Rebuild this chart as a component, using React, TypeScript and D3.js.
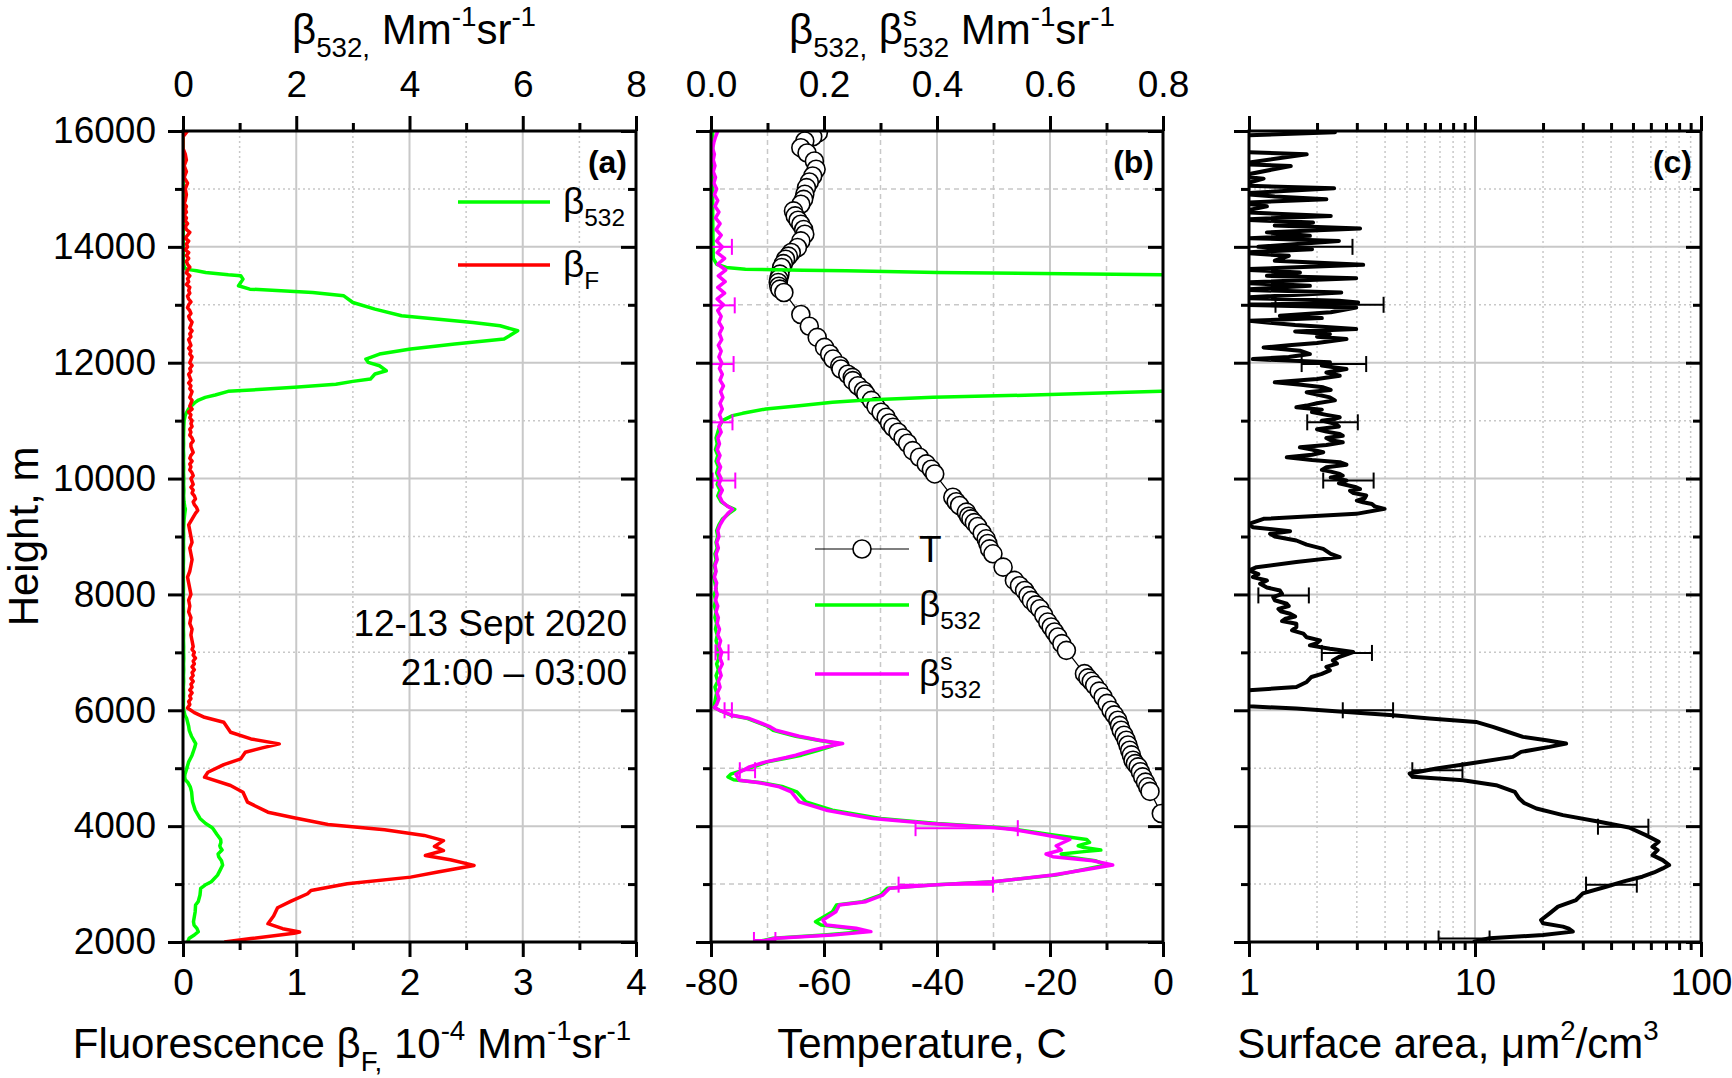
import { useRef, useEffect } from 'react';
import * as d3 from 'd3';

const W = 1732;
const H = 1078;
const TOP = 131;
const BOTTOM = 942;
const PANEL_A: [number, number] = [183, 636];
const PANEL_B: [number, number] = [711, 1163];
const PANEL_C: [number, number] = [1249, 1701];
const FONT = 'Arial, "Liberation Sans", Helvetica, sans-serif';
const GRID = '#c8c8c8';

// [height m, value]
const beta532: [number, number][] = [
  [2000, 0.08], [2064, 0.11], [2121, 0.2], [2179, 0.27], [2236, 0.245], [2293, 0.195], [2350, 0.185],
  [2380, 0.19], [2523, 0.215], [2638, 0.222], [2696, 0.268], [2811, 0.3], [2926, 0.312], [2983, 0.39],
  [3041, 0.5], [3155, 0.61], [3250, 0.66], [3328, 0.7], [3403, 0.68], [3472, 0.63], [3518, 0.62],
  [3560, 0.66], [3587, 0.69], [3630, 0.66], [3661, 0.65], [3720, 0.67], [3770, 0.665], [3857, 0.6],
  [3943, 0.54], [3977, 0.51], [4046, 0.4], [4133, 0.3], [4276, 0.215], [4420, 0.168], [4592, 0.152],
  [4679, 0.128], [4748, 0.09], [4800, 0.04], [4850, 0.03], [4897, 0.035], [5023, 0.075], [5110, 0.1],
  [5184, 0.14], [5225, 0.16], [5311, 0.19], [5368, 0.21], [5426, 0.225], [5483, 0.19], [5552, 0.15],
  [5655, 0.11], [5724, 0.1], [5857, 0.065], [5914, 0.035], [6000, 0.015], [6046, 0.006],
  [6100, 0.006], [6200, 0.008], [6300, 0.01], [6400, 0.007], [6500, 0.012], [6600, 0.009], [6700, 0.013],
  [6800, 0.01], [6900, 0.014], [7000, 0.011], [7100, 0.012], [7200, 0.009], [7300, 0.011], [7400, 0.008],
  [7500, 0.01], [7600, 0.007], [7700, 0.009], [7800, 0.006], [7900, 0.008], [8000, 0.006], [8100, 0.009],
  [8200, 0.007], [8300, 0.005], [8400, 0.008], [8500, 0.006], [8600, 0.009], [8700, 0.007], [8800, 0.011],
  [8900, 0.009], [9000, 0.012], [9100, 0.01], [9200, 0.014], [9300, 0.02], [9400, 0.032], [9470, 0.042],
  [9520, 0.03], [9600, 0.018], [9700, 0.012], [9800, 0.016], [9900, 0.011], [10000, 0.014], [10100, 0.01],
  [10200, 0.013], [10300, 0.009], [10400, 0.012], [10500, 0.008], [10600, 0.011], [10700, 0.009],
  [10800, 0.012], [10900, 0.015], [11000, 0.02], [11086, 0.038], [11126, 0.056], [11201, 0.097],
  [11259, 0.156], [11316, 0.215], [11356, 0.275], [11402, 0.393], [11443, 0.57], [11506, 0.797],
  [11540, 1.4], [11575, 1.97], [11630, 2.7], [11678, 3.0], [11718, 3.31], [11805, 3.39], [11862, 3.59],
  [11948, 3.47], [12006, 3.27], [12063, 3.23], [12150, 3.47], [12236, 4.02], [12322, 4.8], [12408, 5.67],
  [12552, 5.91], [12638, 5.6], [12695, 5.12], [12810, 3.86], [12925, 3.39], [13040, 3.0], [13155, 2.84],
  [13213, 2.29], [13270, 1.18], [13328, 0.98], [13443, 1.06], [13500, 1.02], [13517, 0.8], [13558, 0.4],
  [13586, 0.24], [13598, 0.163], [13615, 0.061], [13644, 0.027], [13700, 0.01], [13800, 0.004],
  [14500, 0.003], [16000, 0.003],
];

const betaF: [number, number][] = [
  [2000, 0.365], [2060, 0.6], [2150, 0.98], [2172, 1.03], [2230, 0.88], [2316, 0.75], [2450, 0.8],
  [2592, 0.835], [2700, 0.95], [2833, 1.1], [2890, 1.13], [3006, 1.45], [3120, 2.01], [3207, 2.25],
  [3322, 2.57], [3420, 2.36], [3494, 2.14], [3580, 2.3], [3650, 2.22], [3750, 2.3], [3840, 2.13],
  [3937, 1.78], [4029, 1.28], [4144, 0.98], [4241, 0.75], [4414, 0.57], [4586, 0.53], [4701, 0.42],
  [4845, 0.19], [4931, 0.22], [5063, 0.36], [5161, 0.51], [5276, 0.55], [5351, 0.7], [5420, 0.85],
  [5506, 0.6], [5621, 0.42], [5793, 0.36], [5879, 0.19], [5960, 0.1], [6040, 0.04],
  [6100, 0.06], [6150, 0.05], [6200, 0.07], [6250, 0.06], [6300, 0.08], [6350, 0.06], [6400, 0.08],
  [6450, 0.07], [6500, 0.09], [6550, 0.07], [6600, 0.09], [6650, 0.08], [6700, 0.1], [6750, 0.08],
  [6800, 0.1], [6850, 0.09], [6900, 0.11], [6950, 0.09], [7000, 0.1], [7050, 0.08], [7100, 0.09],
  [7200, 0.08], [7300, 0.07], [7400, 0.08], [7500, 0.06], [7600, 0.07], [7700, 0.05], [7800, 0.06],
  [7900, 0.05], [8000, 0.07], [8100, 0.06], [8200, 0.05], [8300, 0.04], [8400, 0.06], [8500, 0.07],
  [8600, 0.08], [8700, 0.07], [8800, 0.06], [8900, 0.08], [9000, 0.07], [9100, 0.06], [9200, 0.05],
  [9300, 0.08], [9400, 0.11], [9450, 0.13], [9500, 0.12], [9550, 0.1], [9600, 0.09], [9650, 0.11],
  [9700, 0.1], [9750, 0.08], [9800, 0.09], [9850, 0.07], [9900, 0.09], [9950, 0.08], [10000, 0.07],
  [10050, 0.09], [10100, 0.08], [10150, 0.06], [10200, 0.07], [10250, 0.06], [10300, 0.08], [10350, 0.06],
  [10400, 0.07], [10450, 0.09], [10500, 0.08], [10550, 0.07], [10600, 0.07], [10650, 0.09], [10700, 0.08],
  [10750, 0.06], [10800, 0.07], [10850, 0.06], [10900, 0.08], [10950, 0.07], [11000, 0.08], [11050, 0.06],
  [11100, 0.07], [11150, 0.05], [11200, 0.08], [11250, 0.06], [11300, 0.07], [11350, 0.08], [11400, 0.06],
  [11450, 0.07], [11500, 0.08], [11550, 0.06], [11600, 0.07], [11650, 0.05], [11700, 0.07], [11750, 0.06],
  [11800, 0.05], [11850, 0.07], [11900, 0.06], [11950, 0.08], [12000, 0.06], [12050, 0.07], [12100, 0.08],
  [12150, 0.06], [12200, 0.07], [12250, 0.05], [12300, 0.07], [12350, 0.06], [12400, 0.05], [12450, 0.07],
  [12500, 0.06], [12550, 0.08], [12600, 0.06], [12650, 0.07], [12700, 0.08], [12750, 0.06], [12800, 0.05],
  [12850, 0.07], [12900, 0.06], [12950, 0.04], [13000, 0.05], [13050, 0.07], [13100, 0.05], [13150, 0.04],
  [13200, 0.06], [13250, 0.05], [13300, 0.06], [13350, 0.03], [13400, 0.05], [13450, 0.04], [13500, 0.06],
  [13550, 0.03], [13600, 0.04], [13650, 0.06], [13700, 0.04], [13750, 0.03], [13800, 0.05], [13850, 0.03],
  [13900, 0.05], [13950, 0.02], [14000, 0.04], [14050, 0.03], [14100, 0.05], [14150, 0.02], [14200, 0.04],
  [14250, 0.06], [14300, 0.03], [14350, 0.02], [14400, 0.04], [14450, 0.02], [14500, 0.03], [14550, 0.01],
  [14600, 0.03], [14650, 0.02], [14700, 0.03], [14750, 0.01], [14800, 0.02], [14900, 0.03], [15000, 0.02],
  [15100, 0.04], [15200, 0.01], [15300, 0.03], [15400, 0.01], [15500, 0.03], [15600, 0.02], [15700, 0.0],
  [15800, 0.0], [15900, 0.0], [15950, 0.02], [16000, 0.04],
];

const beta532s: [number, number][] = [
  [2000, 0.088], [2035, 0.1], [2064, 0.115], [2121, 0.215], [2179, 0.283], [2236, 0.257], [2293, 0.204],
  [2380, 0.198], [2523, 0.221], [2638, 0.227], [2696, 0.274], [2811, 0.304], [2926, 0.316], [2983, 0.393],
  [3041, 0.5], [3155, 0.605], [3250, 0.665], [3328, 0.711], [3403, 0.676], [3472, 0.605], [3518, 0.593],
  [3587, 0.62], [3661, 0.611], [3770, 0.635], [3857, 0.587], [3943, 0.534], [3977, 0.5], [4046, 0.387],
  [4133, 0.286], [4276, 0.204], [4420, 0.156], [4592, 0.142], [4679, 0.121], [4748, 0.086], [4793, 0.05],
  [4897, 0.044], [5023, 0.068], [5110, 0.097], [5184, 0.133], [5225, 0.15], [5311, 0.18], [5368, 0.204],
  [5426, 0.233], [5483, 0.192], [5552, 0.156], [5655, 0.115], [5724, 0.103], [5857, 0.068], [5914, 0.038],
  [6000, 0.015], [6046, 0.006],
  [6100, 0.01], [6200, 0.014], [6300, 0.011], [6400, 0.016], [6500, 0.013], [6600, 0.018], [6700, 0.015],
  [6800, 0.02], [6900, 0.016], [7000, 0.019], [7100, 0.014], [7200, 0.017], [7300, 0.012], [7400, 0.015],
  [7500, 0.011], [7600, 0.013], [7700, 0.009], [7800, 0.012], [7900, 0.008], [8000, 0.011], [8100, 0.008],
  [8200, 0.01], [8300, 0.006], [8400, 0.009], [8500, 0.007], [8600, 0.011], [8700, 0.009], [8800, 0.013],
  [8900, 0.01], [9000, 0.014], [9100, 0.012], [9200, 0.016], [9300, 0.022], [9400, 0.03], [9470, 0.038],
  [9530, 0.028], [9600, 0.02], [9700, 0.015], [9800, 0.02], [9900, 0.014], [10000, 0.018], [10100, 0.013],
  [10200, 0.017], [10300, 0.012], [10400, 0.016], [10500, 0.011], [10600, 0.015], [10700, 0.012],
  [10800, 0.018], [10900, 0.014], [11000, 0.019], [11100, 0.015], [11200, 0.02], [11300, 0.016],
  [11400, 0.021], [11500, 0.017], [11600, 0.022], [11700, 0.016], [11800, 0.02], [11900, 0.015],
  [12000, 0.019], [12100, 0.014], [12200, 0.018], [12300, 0.013], [12400, 0.019], [12500, 0.015],
  [12600, 0.02], [12700, 0.014], [12800, 0.018], [12900, 0.012], [13000, 0.022], [13100, 0.011],
  [13200, 0.024], [13300, 0.012], [13400, 0.025], [13500, 0.013], [13600, 0.026], [13700, 0.012],
  [13800, 0.024], [13900, 0.011], [14000, 0.02], [14100, 0.01], [14200, 0.018], [14300, 0.009],
  [14400, 0.016], [14500, 0.008], [14600, 0.014], [14700, 0.007], [14800, 0.012], [14900, 0.006],
  [15000, 0.01], [15100, 0.005], [15200, 0.008], [15300, 0.004], [15400, 0.007], [15500, 0.004],
  [15600, 0.006], [15700, 0.003], [15800, 0.005], [15900, 0.008], [16000, 0.012],
];

// [height m, temperature C]
const temperature: [number, number][] = [
  [15971, -61.0], [15900, -62.0], [15827, -63.4], [15712, -64.1], [15620, -63.0], [15483, -61.7],
  [15339, -61.4], [15224, -62.0], [15120, -62.6], [15023, -63.1], [14908, -63.4], [14820, -63.6],
  [14735, -64.1], [14621, -65.4], [14534, -65.1], [14460, -64.6], [14391, -64.1], [14300, -63.6],
  [14218, -63.4], [14103, -64.1], [13989, -64.7], [13902, -65.8], [13840, -66.3], [13787, -66.8],
  [13710, -67.2], [13644, -67.5], [13529, -67.8], [13450, -68.0], [13385, -68.1], [13320, -68.0],
  [13270, -67.8], [13213, -67.1],
  [12833, -64.1], [12630, -62.6], [12437, -61.2], [12264, -59.9], [12150, -59.0], [12063, -58.4],
  [11948, -57.2], [11891, -57.0], [11800, -55.8], [11747, -55.0], [11690, -54.9], [11603, -54.0],
  [11517, -53.0], [11460, -52.6], [11350, -51.6], [11242, -50.8], [11144, -49.9], [11058, -49.0],
  [10960, -48.4], [10885, -47.8], [10799, -46.9], [10700, -46.0], [10609, -45.2], [10483, -44.3],
  [10368, -43.1], [10253, -41.9], [10160, -41.0], [10080, -40.4],
  [9678, -37.2], [9600, -36.6], [9535, -36.0], [9420, -34.8], [9350, -34.4], [9305, -34.0], [9240, -33.4],
  [9173, -32.8], [9060, -32.0], [8960, -31.3], [8880, -31.0], [8787, -30.7], [8701, -30.1], [8471, -28.3],
  [8242, -26.3], [8150, -25.4], [8069, -24.5], [7980, -23.9], [7897, -23.3], [7820, -22.5], [7753, -21.8],
  [7640, -21.1], [7523, -20.4], [7437, -19.8], [7351, -19.2], [7265, -18.6], [7150, -17.9], [7035, -17.1],
  [6632, -13.9], [6560, -13.3], [6500, -12.7], [6431, -12.1], [6330, -11.3], [6230, -10.6], [6120, -9.9],
  [6000, -9.2], [5920, -8.6], [5828, -8.0], [5740, -7.7], [5655, -7.4], [5570, -6.9], [5483, -6.5],
  [5400, -6.2], [5311, -5.9], [5230, -5.6], [5138, -5.3], [5080, -4.9], [5023, -4.4], [4940, -4.0],
  [4851, -3.6], [4760, -3.1], [4679, -2.7], [4600, -2.3], [4219, -0.3],
];

// [height m, surface area um2/cm3]
const surfaceArea: [number, number][] = [
  [2000, 9.8], [2064, 11.6], [2120, 20], [2179, 27.1], [2230, 26], [2265, 24.5], [2322, 20], [2380, 19.6],
  [2495, 21.4], [2610, 23.3], [2725, 28], [2840, 30], [2954, 38], [3050, 46], [3127, 55], [3200, 62],
  [3270, 67.7], [3328, 72.3], [3414, 67.7], [3500, 61], [3587, 64.3], [3644, 61], [3730, 65], [3845, 57],
  [3977, 48], [4075, 35.5], [4190, 24.5], [4305, 18.7], [4400, 16.5], [4477, 15.7], [4592, 15], [4707, 12.4],
  [4793, 8.85], [4851, 5.3], [4908, 5.14], [4995, 6.75], [5081, 9.5], [5196, 14.7], [5282, 16], [5368, 21.4],
  [5426, 25.3], [5483, 20.7], [5541, 16.3], [5655, 13.3], [5713, 12.0], [5799, 10.1], [5857, 6.3],
  [5914, 4.34], [5972, 2.7], [6029, 1.62], [6069, 1.0], [6150, 0.9], [6250, 0.9], [6345, 1.0], [6403, 1.62],
  [6489, 1.8], [6575, 1.89], [6630, 2.1], [6690, 2.28], [6750, 2.2], [6805, 2.45], [6860, 2.35], [6920, 2.5],
  [7006, 2.89], [7063, 2.28], [7121, 1.86], [7160, 2.0], [7207, 2.06], [7260, 1.8], [7322, 1.74],
  [7380, 1.55], [7437, 1.62], [7494, 1.62], [7540, 1.4], [7580, 1.45], [7620, 1.6], [7667, 1.52],
  [7710, 1.38], [7750, 1.35], [7800, 1.5], [7839, 1.47], [7900, 1.3], [7954, 1.28], [8010, 1.4],
  [8069, 1.37], [8120, 1.2], [8184, 1.12], [8240, 1.2], [8299, 1.04], [8350, 1.1], [8414, 1.0], [8471, 1.08],
  [8558, 1.62], [8644, 2.52], [8700, 2.3], [8787, 2.13], [8860, 1.8], [8931, 1.62], [9000, 1.3],
  [9046, 1.24], [9092, 1.52], [9161, 1.04], [9219, 1.0], [9305, 1.16], [9391, 2.98], [9477, 3.98],
  [9520, 3.6], [9560, 3.5], [9590, 3.2], [9620, 3.0], [9660, 3.25], [9707, 3.3], [9750, 2.9], [9790, 2.8],
  [9820, 3.1], [9851, 2.98], [9890, 2.7], [9920, 2.5], [9966, 2.7], [10020, 2.3], [10050, 2.6], [10080, 2.52],
  [10120, 2.3], [10150, 2.1], [10195, 2.2], [10240, 2.7], [10282, 2.52], [10320, 1.9], [10368, 1.47],
  [10410, 1.9], [10454, 2.13], [10500, 1.9], [10540, 1.68], [10580, 2.2], [10627, 2.6], [10660, 2.3],
  [10700, 2.2], [10740, 2.6], [10770, 2.52], [10810, 2.2], [10850, 2.0], [10900, 2.5], [10943, 2.43],
  [11000, 2.1], [11030, 2.4], [11058, 2.52], [11100, 2.2], [11150, 1.9], [11190, 2.1], [11230, 1.62],
  [11260, 1.8], [11300, 2.0], [11350, 2.4], [11402, 2.28], [11450, 2.0], [11490, 1.8], [11530, 2.3],
  [11575, 2.13], [11620, 1.7], [11661, 1.3], [11720, 2.0], [11776, 2.52], [11830, 2.2], [11891, 2.7],
  [11950, 2.1], [12006, 2.28], [12063, 1.04], [12100, 1.5], [12149, 1.86], [12207, 1.68], [12264, 1.16],
  [12300, 1.5], [12340, 2.0], [12408, 2.7], [12450, 2.0], [12494, 2.28], [12540, 1.6], [12580, 2.98],
  [12650, 1.6], [12724, 1.0], [12770, 2.1], [12810, 1.37], [12870, 2.3], [12954, 2.98], [13000, 0.9],
  [13040, 3.04], [13069, 2.5], [13120, 0.9], [13212, 2.56], [13260, 0.9], [13327, 1.86], [13380, 0.9],
  [13460, 2.98], [13500, 1.2], [13557, 1.68], [13610, 0.9], [13690, 3.2], [13760, 1.3], [13845, 1.5],
  [13900, 0.9], [13960, 1.9], [14000, 1.1], [14103, 2.5], [14150, 1.0], [14190, 1.86], [14250, 1.2],
  [14316, 3.1], [14370, 1.3], [14420, 1.92], [14470, 0.9], [14534, 2.3], [14600, 0.9], [14700, 1.2],
  [14760, 0.9], [14822, 2.2], [14870, 1.3], [14920, 0.9], [15011, 2.38], [15060, 0.9], [15178, 1.16],
  [15220, 0.9], [15397, 1.53], [15430, 0.9], [15598, 1.8], [15640, 0.9], [15920, 0.9], [15980, 2.4],
  [16000, 1.5],
];

// [height m, low, high]
const betaSErrors: [number, number, number][] = [
  [2035, 0.076, 0.114], [2990, 0.332, 0.499], [3965, 0.362, 0.543], [4965, 0.051, 0.078],
  [6000, 0.024, 0.037], [7000, 0.008, 0.031], [9966, 0.003, 0.043], [10971, 0.0, 0.038],
  [11977, 0.0, 0.04], [12990, 0.0, 0.042], [14000, 0.0, 0.037],
];

const surfaceErrors: [number, number, number][] = [
  [2060, 6.9, 11.6], [2990, 31, 52], [3990, 35, 58.5], [4965, 5.28, 8.8], [6000, 2.6, 4.34],
  [6990, 2.1, 3.5], [7983, 1.1, 1.84], [9966, 2.13, 3.56], [10971, 1.81, 3.03], [11977, 1.71, 3.3],
  [13000, 1.31, 3.94], [14000, 0.8, 2.87],
];

const heightMajor = [2000, 4000, 6000, 8000, 10000, 12000, 14000, 16000];
const heightMinor = [3000, 5000, 7000, 9000, 11000, 13000, 15000];

type Sel = d3.Selection<any, any, any, any>;
type Seg = [string, ('n' | 'sub' | 'sup')?, number?];

function rich(parent: Sel, x: number, y: number, segs: Seg[], size: number, anchor = 'start') {
  const t = parent
    .append('text')
    .attr('x', x)
    .attr('y', y)
    .attr('font-size', size)
    .attr('font-family', FONT)
    .attr('text-anchor', anchor)
    .attr('fill', '#000')
    .style('white-space', 'pre');
  let shift = 0;
  for (const [str, kind = 'n', dx = 0] of segs) {
    const target = kind === 'sub' ? size * 0.32 : kind === 'sup' ? -size * 0.42 : 0;
    t.append('tspan')
      .attr('dy', target - shift)
      .attr('dx', dx)
      .attr('font-size', kind === 'n' ? size : size * 0.66)
      .text(str);
    shift = target;
  }
  return t;
}

function addAxis(svg: Sel, gen: any, tx: number, ty: number) {
  const g = svg.append('g').attr('transform', `translate(${tx},${ty})`).call(gen);
  g.select('.domain').remove();
  g.selectAll('.tick line').attr('stroke', '#000').attr('stroke-width', 3);
  g.attr('font-size', 37).attr('font-family', FONT);
  g.selectAll('.tick text').attr('fill', '#000');
  return g;
}

function grid(svg: Sel, x0: number, x1: number, y: any, vMajor: number[], vMinor: number[], dash: string) {
  const g = svg.append('g');
  g.selectAll(null)
    .data(vMinor)
    .join('line')
    .attr('x1', (d) => d).attr('x2', (d) => d).attr('y1', TOP).attr('y2', BOTTOM)
    .attr('stroke', GRID).attr('stroke-width', 1.5).attr('stroke-dasharray', dash);
  g.selectAll(null)
    .data(heightMinor)
    .join('line')
    .attr('x1', x0).attr('x2', x1).attr('y1', (d) => y(d)).attr('y2', (d) => y(d))
    .attr('stroke', GRID).attr('stroke-width', 1.5).attr('stroke-dasharray', dash);
  g.selectAll(null)
    .data(vMajor)
    .join('line')
    .attr('x1', (d) => d).attr('x2', (d) => d).attr('y1', TOP).attr('y2', BOTTOM)
    .attr('stroke', GRID).attr('stroke-width', 2);
  g.selectAll(null)
    .data(heightMajor.slice(1, -1))
    .join('line')
    .attr('x1', x0).attr('x2', x1).attr('y1', (d) => y(d)).attr('y2', (d) => y(d))
    .attr('stroke', GRID).attr('stroke-width', 2);
}

function heightAxes(svg: Sel, x0: number, x1: number, y: any, labels: boolean) {
  addAxis(
    svg,
    d3.axisLeft(y).tickValues(heightMajor).tickSize(15).tickPadding(12)
      .tickFormat((d: any) => (labels ? String(d) : '')),
    x0, 0,
  );
  addAxis(svg, d3.axisLeft(y).tickValues(heightMinor).tickSize(8).tickFormat(() => ''), x0, 0);
  addAxis(svg, d3.axisLeft(y).tickValues(heightMajor).tickSize(15).tickFormat(() => ''), x1, 0);
  addAxis(svg, d3.axisLeft(y).tickValues(heightMinor).tickSize(8).tickFormat(() => ''), x1, 0);
}

function errorBars(g: Sel, data: [number, number, number][], x: any, y: any, color: string, sw: number) {
  const bars = g.selectAll(null).data(data).join('g');
  bars.append('line')
    .attr('x1', (d: any) => x(d[1])).attr('x2', (d: any) => x(d[2]))
    .attr('y1', (d: any) => y(d[0])).attr('y2', (d: any) => y(d[0]))
    .attr('stroke', color).attr('stroke-width', sw);
  [1, 2].forEach((i) => {
    bars.append('line')
      .attr('x1', (d: any) => x(d[i])).attr('x2', (d: any) => x(d[i]))
      .attr('y1', (d: any) => y(d[0]) - 8).attr('y2', (d: any) => y(d[0]) + 8)
      .attr('stroke', color).attr('stroke-width', sw);
  });
}

export default function App() {
  const svgRef = useRef<SVGSVGElement>(null);

  useEffect(() => {
    if (!svgRef.current) return;
    document.body.style.margin = '0';
    const svg = d3.select(svgRef.current);
    svg.selectAll('*').remove();

    const y = d3.scaleLinear().domain([2000, 16000]).range([BOTTOM, TOP]);

    const defs = svg.append('defs');
    [PANEL_A, PANEL_B, PANEL_C].forEach((p, i) => {
      defs.append('clipPath').attr('id', `clip-${i}`)
        .append('rect').attr('x', p[0]).attr('y', TOP).attr('width', p[1] - p[0]).attr('height', BOTTOM - TOP);
    });

    // ---------- Panel (a)
    const xa = d3.scaleLinear().domain([0, 4]).range(PANEL_A);
    const xaTop = d3.scaleLinear().domain([0, 8]).range(PANEL_A);
    grid(svg, PANEL_A[0], PANEL_A[1], y, [1, 2, 3].map(xa), [0.5, 1.5, 2.5, 3.5].map(xa), '2,3');

    const ga = svg.append('g').attr('clip-path', 'url(#clip-0)');
    ga.append('path').datum(beta532)
      .attr('d', d3.line<[number, number]>().x((d) => xaTop(d[1])).y((d) => y(d[0])))
      .attr('fill', 'none').attr('stroke', '#00ff00').attr('stroke-width', 3.5).attr('stroke-linejoin', 'round');
    ga.append('path').datum(betaF)
      .attr('d', d3.line<[number, number]>().x((d) => xa(d[1])).y((d) => y(d[0])))
      .attr('fill', 'none').attr('stroke', '#ff0000').attr('stroke-width', 3.5).attr('stroke-linejoin', 'round');

    // ---------- Panel (b)
    const xb = d3.scaleLinear().domain([-80, 0]).range(PANEL_B);
    const xbTop = d3.scaleLinear().domain([0, 0.8]).range(PANEL_B);
    grid(svg, PANEL_B[0], PANEL_B[1], y, [-60, -40, -20].map(xb), [-70, -50, -30, -10].map(xb), '5,4');

    const gb = svg.append('g').attr('clip-path', 'url(#clip-1)');
    gb.append('path').datum(temperature)
      .attr('d', d3.line<[number, number]>().x((d) => xb(d[1])).y((d) => y(d[0])))
      .attr('fill', 'none').attr('stroke', '#000').attr('stroke-width', 1.2);
    gb.selectAll('circle').data(temperature).join('circle')
      .attr('cx', (d) => xb(d[1])).attr('cy', (d) => y(d[0])).attr('r', 9)
      .attr('fill', '#fff').attr('stroke', '#000').attr('stroke-width', 1.6);
    gb.append('path').datum(beta532)
      .attr('d', d3.line<[number, number]>().x((d) => xbTop(d[1])).y((d) => y(d[0])))
      .attr('fill', 'none').attr('stroke', '#00ff00').attr('stroke-width', 3.5).attr('stroke-linejoin', 'round');
    gb.append('path').datum(beta532s)
      .attr('d', d3.line<[number, number]>().x((d) => xbTop(d[1])).y((d) => y(d[0])))
      .attr('fill', 'none').attr('stroke', '#ff00ff').attr('stroke-width', 3.5).attr('stroke-linejoin', 'round');
    errorBars(gb, betaSErrors, xbTop, y, '#ff00ff', 2);

    // ---------- Panel (c)
    const xc = d3.scaleLog().domain([1, 100]).range(PANEL_C);
    const cMinor = [2, 3, 4, 5, 6, 7, 8, 9, 20, 30, 40, 50, 60, 70, 80, 90];
    grid(svg, PANEL_C[0], PANEL_C[1], y, [xc(10)], cMinor.map(xc), '2,3');

    const gc = svg.append('g').attr('clip-path', 'url(#clip-2)');
    gc.append('path').datum(surfaceArea)
      .attr('d', d3.line<[number, number]>().x((d) => xc(d[1])).y((d) => y(d[0])))
      .attr('fill', 'none').attr('stroke', '#000').attr('stroke-width', 4).attr('stroke-linejoin', 'round');
    errorBars(gc, surfaceErrors, xc, y, '#000', 2);

    // ---------- Frames and axes
    [PANEL_A, PANEL_B, PANEL_C].forEach((p) => {
      svg.append('rect').attr('x', p[0]).attr('y', TOP).attr('width', p[1] - p[0]).attr('height', BOTTOM - TOP)
        .attr('fill', 'none').attr('stroke', '#000').attr('stroke-width', 3);
    });

    heightAxes(svg, PANEL_A[0], PANEL_A[1], y, true);
    heightAxes(svg, PANEL_B[0], PANEL_B[1], y, false);
    heightAxes(svg, PANEL_C[0], PANEL_C[1], y, false);

    const fmt = (d: any) => String(d);
    // a
    addAxis(svg, d3.axisTop(xaTop).tickValues([0, 2, 4, 6, 8]).tickSize(15).tickPadding(19).tickFormat(fmt), 0, TOP);
    addAxis(svg, d3.axisTop(xaTop).tickValues([1, 3, 5, 7]).tickSize(8).tickFormat(() => ''), 0, TOP);
    addAxis(svg, d3.axisBottom(xa).tickValues([0, 1, 2, 3, 4]).tickSize(15).tickPadding(12).tickFormat(fmt), 0, BOTTOM);
    addAxis(svg, d3.axisBottom(xa).tickValues([0.5, 1.5, 2.5, 3.5]).tickSize(8).tickFormat(() => ''), 0, BOTTOM);
    // b
    addAxis(svg, d3.axisTop(xbTop).tickValues([0, 0.2, 0.4, 0.6, 0.8]).tickSize(15).tickPadding(19)
      .tickFormat((d: any) => d3.format('.1f')(d)), 0, TOP);
    addAxis(svg, d3.axisTop(xbTop).tickValues([0.1, 0.3, 0.5, 0.7]).tickSize(8).tickFormat(() => ''), 0, TOP);
    addAxis(svg, d3.axisBottom(xb).tickValues([-80, -60, -40, -20, 0]).tickSize(15).tickPadding(12).tickFormat(fmt), 0, BOTTOM);
    addAxis(svg, d3.axisBottom(xb).tickValues([-70, -50, -30, -10]).tickSize(8).tickFormat(() => ''), 0, BOTTOM);
    // c
    addAxis(svg, d3.axisTop(xc).tickValues([1, 10, 100]).tickSize(15).tickFormat(() => ''), 0, TOP);
    addAxis(svg, d3.axisTop(xc).tickValues(cMinor).tickSize(8).tickFormat(() => ''), 0, TOP);
    addAxis(svg, d3.axisBottom(xc).tickValues([1, 10, 100]).tickSize(15).tickPadding(12).tickFormat(fmt), 0, BOTTOM);
    addAxis(svg, d3.axisBottom(xc).tickValues(cMinor).tickSize(8).tickFormat(() => ''), 0, BOTTOM);

    // ---------- Titles
    svg.append('text')
      .attr('transform', `translate(38,${(TOP + BOTTOM) / 2}) rotate(-90)`)
      .attr('text-anchor', 'middle').attr('font-size', 42).attr('font-family', FONT).text('Height, m');

    rich(svg, 414, 44, [['β'], ['532,', 'sub'], [' Mm'], ['-1', 'sup'], ['sr'], ['-1', 'sup']], 42, 'middle');
    rich(svg, 952, 44, [
      ['β'], ['532,', 'sub'], [' β'], ['s', 'sup'], ['532', 'sub', -14], [' Mm'], ['-1', 'sup'], ['sr'], ['-1', 'sup'],
    ], 42, 'middle');
    rich(svg, 352, 1058, [
      ['Fluorescence β'], ['F,', 'sub'], [' 10'], ['-4', 'sup'], [' Mm'], ['-1', 'sup'], ['sr'], ['-1', 'sup'],
    ], 42, 'middle');
    rich(svg, 922, 1058, [['Temperature, C']], 42, 'middle');
    rich(svg, 1448, 1058, [['Surface area, μm'], ['2', 'sup'], ['/cm'], ['3', 'sup']], 42, 'middle');

    // panel labels
    [['(a)', PANEL_A], ['(b)', PANEL_B], ['(c)', PANEL_C]].forEach(([lab, p]: any) => {
      svg.append('text').attr('x', p[1] - 9).attr('y', 173).attr('text-anchor', 'end')
        .attr('font-size', 32).attr('font-weight', 'bold').attr('font-family', FONT).text(lab);
    });

    // legend (a)
    svg.append('line').attr('x1', 458).attr('x2', 550).attr('y1', 202).attr('y2', 202)
      .attr('stroke', '#00ff00').attr('stroke-width', 3.5);
    rich(svg, 563, 214, [['β'], ['532', 'sub']], 37);
    svg.append('line').attr('x1', 458).attr('x2', 550).attr('y1', 265).attr('y2', 265)
      .attr('stroke', '#ff0000').attr('stroke-width', 3.5);
    rich(svg, 563, 277, [['β'], ['F', 'sub']], 37);

    // date text (a)
    rich(svg, 627, 636, [['12-13 Sept 2020']], 37, 'end');
    rich(svg, 627, 685, [['21:00 – 03:00']], 37, 'end');

    // legend (b)
    svg.append('line').attr('x1', 815).attr('x2', 909).attr('y1', 549).attr('y2', 549)
      .attr('stroke', '#000').attr('stroke-width', 1.2);
    svg.append('circle').attr('cx', 862).attr('cy', 549).attr('r', 9)
      .attr('fill', '#fff').attr('stroke', '#000').attr('stroke-width', 1.6);
    rich(svg, 919, 562, [['T']], 37);
    svg.append('line').attr('x1', 815).attr('x2', 909).attr('y1', 605).attr('y2', 605)
      .attr('stroke', '#00ff00').attr('stroke-width', 3.5);
    rich(svg, 919, 617, [['β'], ['532', 'sub']], 37);
    svg.append('line').attr('x1', 815).attr('x2', 909).attr('y1', 674).attr('y2', 674)
      .attr('stroke', '#ff00ff').attr('stroke-width', 3.5);
    rich(svg, 919, 686, [['β'], ['s', 'sup'], ['532', 'sub', -12]], 37);
  }, []);

  return <svg ref={svgRef} width={W} height={H} style={{ display: 'block', background: '#fff' }} />;
}
